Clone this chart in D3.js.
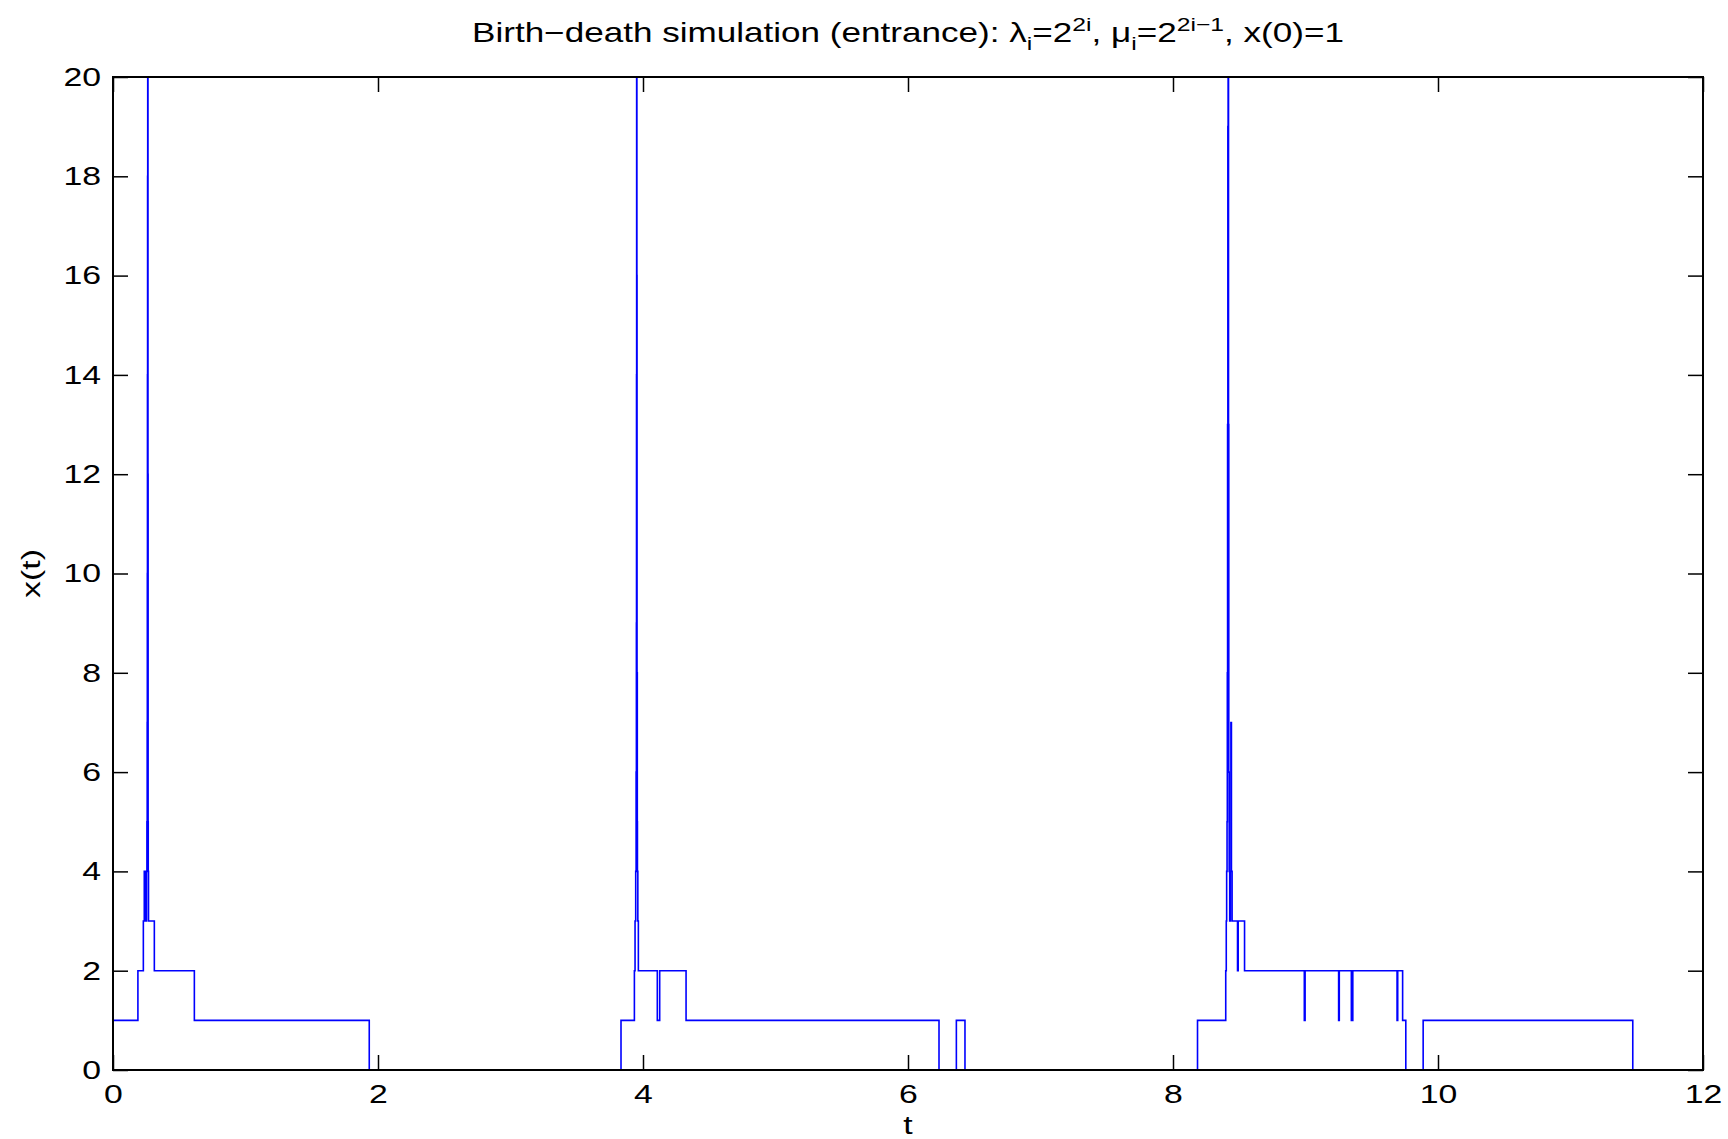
<!DOCTYPE html>
<html>
<head>
<meta charset="utf-8">
<script src="https://cdn.jsdelivr.net/npm/d3@7"></script>
<style>
  body { margin: 0; background: #fff; }
  text { font-family: "Liberation Sans", Arial, sans-serif; }
</style>
</head>
<body>
<div id="chart"></div>
<script>

// jump times and the state entered at each one
var jumpTimes = [0, 0.188, 0.229, 0.236, 0.240, 0.243, 0.250, 0.253, 0.256, 0.258, 0.259, 0.260, 0.261, 0.262, 0.264, 0.265, 0.266, 0.268, 0.312, 0.614, 1.934,
  3.834, 3.935, 3.940, 3.945, 3.948, 3.950, 3.951, 3.952, 3.954, 3.955, 3.957, 3.958, 3.961, 3.965, 4.108, 4.126, 4.325, 6.234, 6.365, 6.430,
  8.185, 8.398, 8.402, 8.405, 8.408, 8.410, 8.412, 8.414, 8.416, 8.419, 8.421, 8.424, 8.428, 8.433, 8.437, 8.441, 8.446, 8.487, 8.492, 8.540,
  8.991, 8.997, 9.250, 9.255, 9.346, 9.357, 9.691, 9.696, 9.733, 9.757, 9.888, 11.47]
var states = [1, 2, 3, 4, 3, 4, 3, 4, 5, 7, 10, 14, 18, 26, 12, 5, 4, 3, 2, 1, 0,
  1, 2, 3, 4, 6, 9, 14, 25, 16, 8, 5, 4, 3, 2, 1, 2, 1, 0, 1, 0,
  1, 2, 3, 4, 5, 8, 13, 19, 25, 13, 6, 4, 3, 4, 7, 4, 3, 2, 3, 2,
  1, 2, 1, 2, 1, 2, 1, 2, 1, 0, 1, 0]

var xTicks = [0, 2, 4, 6, 8, 10, 12]
var yTicks = [0, 2, 4, 6, 8, 10, 12, 14, 16, 18, 20]

var width = 1728,
    height = 1139,
    plotLeft = 113, plotRight = 1703, plotTop = 77, plotBottom = 1070

// the reference text is a little wider than Liberation Sans
var stretch = 1.3

var svg = d3.select("#chart")
  .append("svg")
    .attr("width", width)
    .attr("height", height)

var x = d3.scaleLinear().domain([0, 12]).range([plotLeft, plotRight])
var y = d3.scaleLinear().domain([0, 20]).range([plotBottom, plotTop])

var data = jumpTimes.map(function(t, i) { return {t: t, v: states[i]} })

svg.append("clipPath").attr("id", "clip")
  .append("rect")
    .attr("x", plotLeft).attr("y", plotTop)
    .attr("width", plotRight - plotLeft).attr("height", plotBottom - plotTop + 1)

var line = d3.line()
  .x(function(d) { return x(d.t) })
  .y(function(d) { return y(d.v) })
  .curve(d3.curveStepAfter)

svg.append("path")
  .datum(data)
  .attr("clip-path", "url(#clip)")
  .attr("fill", "none")
  .attr("stroke", "#0000ff")
  .attr("stroke-width", 1.6)
  .attr("d", line)

// box with inward ticks on all sides
var tickLen = 15
var axisFont = "26px"

svg.append("g").attr("transform", "translate(0," + plotBottom + ")")
  .call(d3.axisBottom(x).tickValues(xTicks).tickSizeInner(-tickLen).tickSizeOuter(0).tickPadding(15))
svg.append("g").attr("transform", "translate(0," + plotTop + ")")
  .call(d3.axisTop(x).tickValues(xTicks).tickSizeInner(-tickLen).tickSizeOuter(0).tickFormat(""))
var yAxisG = svg.append("g").attr("transform", "translate(" + plotLeft + ",0)")
  .call(d3.axisLeft(y).tickValues(yTicks).tickSizeInner(-tickLen).tickSizeOuter(0).tickPadding(12))
svg.append("g").attr("transform", "translate(" + plotRight + ",0)")
  .call(d3.axisRight(y).tickValues(yTicks).tickSizeInner(-tickLen).tickSizeOuter(0).tickFormat(""))

svg.selectAll(".domain").remove()
svg.selectAll(".tick line").attr("stroke", "#000").attr("stroke-width", 1.5)
svg.selectAll(".tick text")
  .style("font-family", "'Liberation Sans', Arial, sans-serif")
  .style("font-size", axisFont)
  .attr("fill", "#000")
  .attr("transform", "scale(" + stretch + ",1)")
yAxisG.selectAll(".tick text").attr("x", -12 / stretch)

svg.append("rect")
  .attr("x", plotLeft).attr("y", plotTop)
  .attr("width", plotRight - plotLeft).attr("height", plotBottom - plotTop)
  .attr("fill", "none")
  .attr("stroke", "#000")
  .attr("stroke-width", 2)

// labels
svg.append("text")
  .attr("transform", "translate(" + (plotLeft + plotRight) / 2 + ",1134) scale(" + stretch + ",1)")
  .attr("text-anchor", "middle")
  .style("font-size", axisFont)
  .text("t")

svg.append("text")
  .attr("transform", "translate(40," + (plotTop + plotBottom) / 2 + ") rotate(-90) scale(" + stretch + ",1)")
  .attr("text-anchor", "middle")
  .style("font-size", axisFont)
  .text("x(t)")

var title = svg.append("text")
  .attr("transform", "translate(" + (plotLeft + plotRight) / 2 + ",42) scale(" + stretch + ",1)")
  .attr("text-anchor", "middle")
  .style("font-size", "27px")

title.append("tspan").text("Birth\u2212death simulation (entrance): \u03bb")
title.append("tspan").attr("dy", 8).style("font-size", "19px").text("i")
title.append("tspan").attr("dy", -8).text("=2")
title.append("tspan").attr("dy", -11).style("font-size", "19px").text("2i")
title.append("tspan").attr("dy", 11).text(", \u03bc")
title.append("tspan").attr("dy", 8).style("font-size", "19px").text("i")
title.append("tspan").attr("dy", -8).text("=2")
title.append("tspan").attr("dy", -11).style("font-size", "19px").text("2i\u22121")
title.append("tspan").attr("dy", 11).text(", x(0)=1")

</script>
</body>
</html>
